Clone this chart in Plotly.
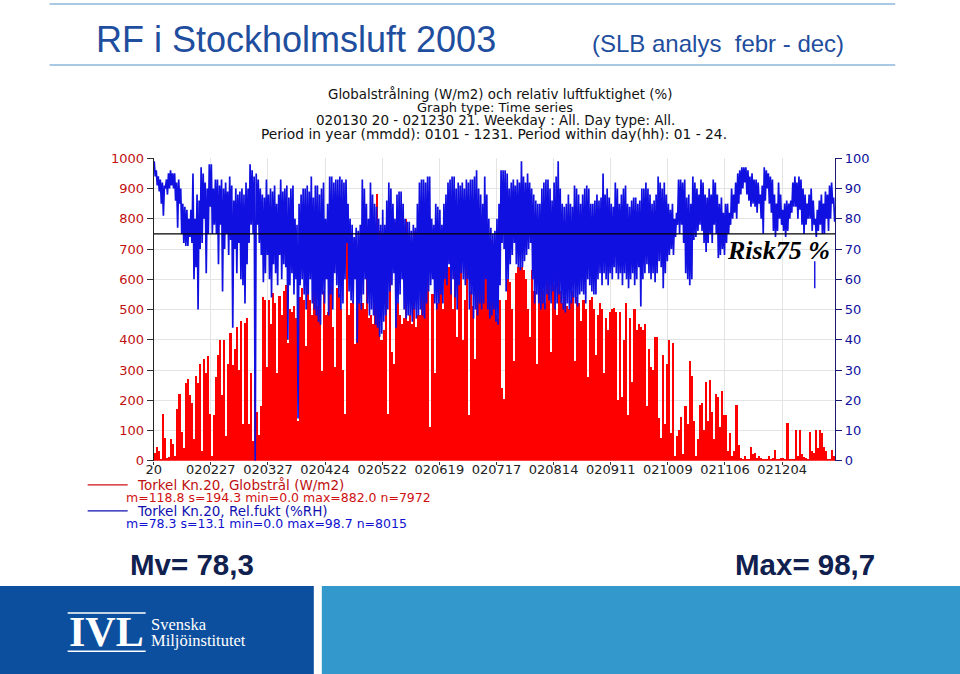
import plotly.graph_objects as go

W, H = 960, 674
SCALE_X, SHIFT_X = 0.991, 8.4
SCALE_Y, SHIFT_Y = 0.976, 7.0

tick_days = [0, 28, 56, 84, 112, 140, 168, 196, 224, 252, 280, 308]
tick_labels = ["20", "020227", "020327", "020424", "020522", "020619", "020717",
               "020814", "020911", "021009", "021106", "021204"]
risk_level = 75
spur_day = 324
spur_low, spur_high = 57, 66

radiation = [
    25,45,30,5,155,75,10,12,70,55,
    15,170,220,95,40,255,270,215,190,70,
    280,255,320,30,335,290,345,155,15,150,
    275,350,400,215,400,80,320,420,315,370,
    440,300,460,120,455,470,120,290,65,270,
    160,85,180,540,530,310,530,450,555,520,
    290,545,480,560,580,390,500,490,510,470,
    130,540,570,530,380,650,530,480,600,560,
    510,530,295,560,480,490,580,440,310,570,
    550,500,300,155,790,480,520,530,385,590,
    730,520,520,500,730,470,480,450,530,880,
    760,400,430,740,155,670,360,320,790,520,
    480,450,470,800,460,480,450,760,440,480,
    480,640,560,570,760,110,550,290,520,780,
    580,500,650,620,640,700,500,840,410,680,
    670,400,530,680,150,560,510,335,690,650,
    650,640,640,650,600,730,520,480,470,530,
    240,205,530,600,590,500,330,620,640,640,
    640,630,600,500,410,630,560,320,640,580,
    560,520,600,580,360,600,580,480,620,560,
    520,540,510,500,530,560,330,540,520,460,
    530,500,275,530,540,500,350,480,520,500,
    290,470,430,490,500,505,490,200,490,210,
    400,520,150,470,260,500,430,450,440,430,
    450,180,370,310,300,410,410,140,75,350,
    120,320,400,90,390,15,80,100,145,20,
    180,120,330,280,130,15,70,185,190,100,
    260,130,265,160,70,220,210,110,230,150,
    150,30,90,15,30,185,50,10,5,15,
    5,3,45,20,25,10,15,10,5,5,
    3,15,5,8,35,3,5,10,8,5,
    125,3,2,5,100,15,100,20,12,10,
    5,95,30,25,100,40,100,90,45,30,
    5,3,35,15,
]

humidity_high = [
    99,96,94,93,92,91,93,95,96,95,
    95,92,93,90,85,84,83,80,83,95,
    80,88,86,97,95,92,90,98,98,90,
    93,93,91,93,90,92,89,94,91,86,
    90,88,89,90,88,92,90,98,96,94,
    95,93,90,88,87,93,88,90,89,91,
    85,88,93,89,90,91,87,90,91,80,
    78,85,88,90,90,91,89,94,87,91,
    91,88,90,92,80,85,94,94,92,93,
    93,94,93,92,93,85,80,78,74,77,
    76,78,93,90,85,80,92,88,85,84,
    80,78,83,78,86,92,90,85,80,88,
    89,89,85,80,79,79,76,78,77,85,
    92,93,93,92,94,94,80,78,85,84,
    83,78,85,88,92,93,94,94,90,92,
    91,92,90,93,92,93,93,94,96,90,
    88,85,94,88,80,77,75,76,80,85,
    96,96,96,95,90,92,93,91,93,92,
    99,94,92,95,92,90,88,86,85,85,
    90,92,93,93,90,86,92,94,99,90,
    85,84,85,88,85,84,91,90,88,85,
    88,90,91,90,85,85,86,88,86,87,
    95,88,90,87,85,84,92,90,85,88,
    90,91,85,84,86,87,87,85,86,90,
    90,92,90,88,85,86,88,94,92,90,
    92,88,85,83,85,80,82,93,93,92,
    93,87,88,85,94,92,90,88,93,92,
    88,87,90,88,93,92,88,85,87,82,
    85,85,82,90,88,92,95,96,97,97,
    97,96,94,95,93,93,92,88,91,97,
    96,95,94,93,88,85,92,88,83,85,
    86,85,86,92,94,92,94,93,90,88,
    85,88,90,86,80,83,86,88,85,89,
    88,91,92,87,
]

humidity_low = [
    94,91,89,85,81,90,88,90,91,90,
    86,77,85,75,72,71,71,74,72,60,
    64,50,70,72,80,62,75,84,75,78,
    75,65,78,56,70,75,68,73,44,70,
    62,72,60,58,52,65,72,78,75,0,
    78,72,68,59,62,68,60,54,65,62,
    58,68,60,65,64,40,58,62,55,60,
    14,58,60,55,50,55,60,52,50,48,
    46,45,55,52,60,48,55,50,62,58,
    54,50,52,60,72,56,53,52,60,39,
    52,50,55,60,52,48,50,48,45,44,
    41,42,46,48,50,56,58,62,44,52,
    55,60,50,47,48,48,46,50,47,48,
    50,48,47,52,56,58,60,52,50,52,
    55,52,60,58,65,55,60,54,50,58,
    62,60,58,60,50,55,47,50,48,52,
    50,52,60,50,47,48,50,46,45,58,
    72,70,56,60,65,68,72,65,64,63,
    64,66,68,70,72,60,52,55,52,50,
    52,50,55,53,52,56,50,52,55,52,
    50,49,52,50,52,54,52,51,55,56,
    55,52,60,58,56,55,55,60,62,58,
    62,60,58,62,60,64,62,60,62,58,
    62,60,57,60,62,58,60,64,51,60,
    62,65,62,60,62,59,62,66,64,57,
    62,66,68,70,68,74,78,75,78,72,
    62,60,58,60,73,74,76,78,76,72,
    69,72,75,72,78,75,67,68,70,68,
    72,75,78,80,82,80,85,88,90,92,
    88,86,84,85,84,82,85,80,75,86,
    90,85,82,76,74,76,80,78,76,74,
    76,80,82,84,84,80,83,78,75,78,
    80,80,76,78,74,76,78,75,75,80,
    76,80,85,79,
]

n_days = len(radiation)
assert len(humidity_high) == n_days and len(humidity_low) == n_days

RED = "#ff0000"
BLUE = "#1010e0"
NAVY = "#1f4e9e"
LIGHT = "#3399cc"
DARK = "#0c4f9e"
CHART_FONT = "DejaVu Sans"


def px(x):
    return (x - SHIFT_X) / SCALE_X / W


def py(y):
    return 1 - (y - SHIFT_Y) / SCALE_Y / H


fig = go.Figure()

fig.add_trace(go.Bar(
    x=[d + 0.5 for d in range(n_days)], y=radiation, width=1,
    marker=dict(color=RED, line=dict(width=0)), yaxis="y", showlegend=False,
))

zig_x, zig_y = [], []
for d in range(n_days):
    zig_x += [d + 0.25, d + 0.75]
    zig_y += [humidity_high[d], humidity_low[d]]
fig.add_trace(go.Scatter(
    x=zig_x, y=zig_y, mode="lines", line=dict(color=BLUE, width=1.7),
    yaxis="y2", showlegend=False,
))
fig.add_trace(go.Scatter(
    x=[spur_day, spur_day], y=[spur_low, spur_high], mode="lines",
    line=dict(color=BLUE, width=1.4), yaxis="y2", showlegend=False,
))
fig.add_trace(go.Scatter(
    x=[0, n_days], y=[risk_level, risk_level], mode="lines",
    line=dict(color="#000000", width=1.2), yaxis="y2", showlegend=False,
))

shapes = [
    dict(type="line", xref="paper", yref="paper", x0=px(50), x1=px(895), y0=py(4), y1=py(4),
         line=dict(color="#a8c8e4", width=2)),
    dict(type="line", xref="paper", yref="paper", x0=px(50), x1=px(895), y0=py(65), y1=py(65),
         line=dict(color="#a8c8e4", width=2)),
    dict(type="rect", xref="paper", yref="paper", x0=px(0), x1=px(314), y0=py(674), y1=py(585),
         fillcolor=DARK, line=dict(width=0)),
    dict(type="rect", xref="paper", yref="paper", x0=px(322), x1=1.01, y0=py(674), y1=py(585),
         fillcolor=LIGHT, line=dict(width=0)),
    dict(type="line", xref="paper", yref="paper", x0=px(68), x1=px(146), y0=py(612), y1=py(612),
         line=dict(color="#ffffff", width=1.5)),
    dict(type="line", xref="paper", yref="paper", x0=px(68), x1=px(146), y0=py(650), y1=py(650),
         line=dict(color="#ffffff", width=1.5)),
    dict(type="line", xref="paper", yref="paper", x0=px(88), x1=px(128), y0=py(484), y1=py(484),
         line=dict(color="#d01010", width=1.2)),
    dict(type="line", xref="paper", yref="paper", x0=px(88), x1=px(128), y0=py(510), y1=py(510),
         line=dict(color="#1010b0", width=1.2)),
]


def text(s, x, y, size, color, family="Liberation Sans", anchor="left"):
    return dict(text=s, x=px(x), y=py(y), xref="paper", yref="paper", showarrow=False,
                xanchor=anchor, yanchor="middle", align=anchor,
                font=dict(size=size, color=color, family=family))


annotations = [
    text("RF i Stockholmsluft 2003", 94, 39, 36, NAVY),
    text("(SLB analys  febr - dec)", 590, 43, 24, NAVY),
    text("Globalstrålning (W/m2) och relativ luftfuktighet (%)", 500, 94, 13.4, "#111111", CHART_FONT, "center"),
    text("Graph type: Time series", 495, 107, 13, "#111111", CHART_FONT, "center"),
    text("020130 20 - 021230 21. Weekday : All. Day type: All.", 496, 120, 13.5, "#111111", CHART_FONT, "center"),
    text("Period in year (mmdd): 0101 - 1231. Period within day(hh): 01 - 24.", 494, 134, 13.8, "#111111", CHART_FONT, "center"),
    text("<b><i>Risk75 %</i></b>", 725, 250, 26, "#000000", "Liberation Serif"),
    text("Torkel Kn.20, Globstrål (W/m2)", 135, 484, 13.5, "#c01010", CHART_FONT),
    text("m=118.8 s=194.3 min=0.0 max=882.0 n=7972", 124, 497, 12.5, "#d01010", CHART_FONT),
    text("Torkel Kn.20, Rel.fukt (%RH)", 135, 510, 13.5, "#1010b0", CHART_FONT),
    text("m=78.3 s=13.1 min=0.0 max=98.7 n=8015", 124, 523, 12.5, "#1010d0", CHART_FONT),
    text("<b>Mv= 78,3</b>", 128, 564, 29.5, "#10204f"),
    text("<b>Max= 98,7</b>", 733, 564, 29.5, "#10204f"),
    text("<b>IVL</b>", 67, 631, 42, "#ffffff", "Liberation Serif"),
    text("Svenska", 149, 623, 16.5, "#ffffff", "Liberation Serif"),
    text("Miljöinstitutet", 149, 639, 16.5, "#ffffff", "Liberation Serif"),
]

fig.update_layout(
    width=W, height=H, margin=dict(l=0, r=0, t=0, b=0), autosize=False,
    paper_bgcolor="white", plot_bgcolor="white", bargap=0, showlegend=False,
    shapes=shapes, annotations=annotations,
    xaxis=dict(domain=[px(154), px(835)], range=[0, n_days], tickvals=tick_days, ticktext=tick_labels,
               ticks="outside", ticklen=3, tickcolor="#333333", showgrid=True, gridcolor="#e4e4e4",
               gridwidth=1, zeroline=False, showline=False, ticklabelstandoff=-6,
               tickfont=dict(family=CHART_FONT, size=13, color="#222222"), tickangle=0),
    yaxis=dict(domain=[py(460), py(158)], range=[0, 1000], tick0=0, dtick=100, ticks="outside",
               ticklen=6, tickcolor="#333333", showgrid=True, gridcolor="#e4e4e4", gridwidth=1,
               zeroline=False, showline=True, linecolor="#222222", linewidth=1,
               tickfont=dict(family=CHART_FONT, size=13, color="#c01010")),
    yaxis2=dict(domain=[py(460), py(158)], range=[0, 100], tick0=0, dtick=10, overlaying="y", side="right",
                ticks="outside", ticklen=6, tickcolor="#1a1a70", showgrid=False, zeroline=False,
                showline=True, linecolor="#1a1a70", linewidth=1, anchor="x",
                tickfont=dict(family=CHART_FONT, size=13, color="#1010a0")),
)

fig.write_html("out.html", config={"displayModeBar": False},
               post_script="document.documentElement.style.margin='0';document.body.style.margin='0';document.body.style.padding='0';")
html = open("out.html", encoding="utf-8").read()
html = html.replace("<head>", "<head><style>html,body{margin:0;padding:0;overflow:hidden}svg.main-svg{overflow:visible!important}</style>", 1)
open("out.html", "w", encoding="utf-8").write(html)
